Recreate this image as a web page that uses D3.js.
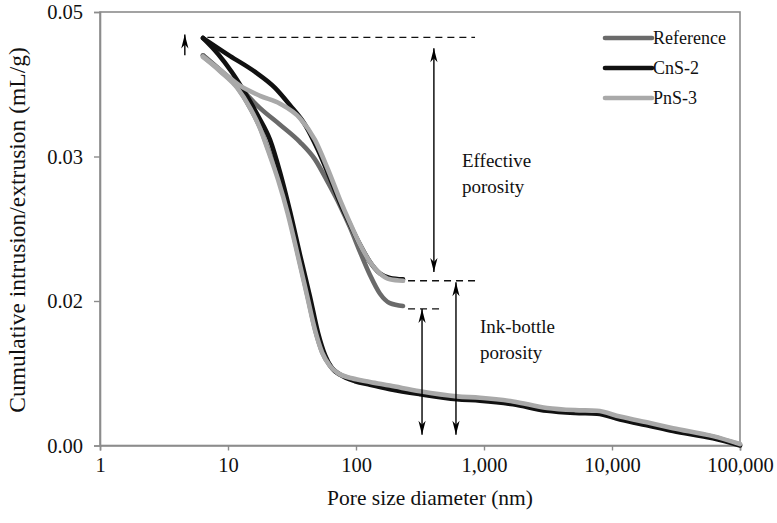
<!DOCTYPE html>
<html><head><meta charset="utf-8">
<script src="https://cdn.jsdelivr.net/npm/d3@7"></script>
<style>body{margin:0;background:#fff}svg{display:block}text{font-family:"Liberation Serif","DejaVu Serif",serif}</style>
</head><body><svg id="c" width="777" height="523"></svg>
<script>
// ---- data (pore diameter nm, cumulative volume mL/g) ----
const seriesNames = ["Reference", "CnS-2", "PnS-3"];
const refIntrusion = [[6.38,0.0440],[8.66,0.0419],[11.8,0.0396],[14.9,0.0367],[17.8,0.0340],[20.6,0.0310],[24.8,0.0285],[29.6,0.0261],[35.5,0.0231],[41.7,0.0204],[48.0,0.0160],[54.5,0.0129],[62.9,0.0110],[72.7,0.0100],[93.5,0.0092],[128.6,0.0087],[184,0.0081],[316,0.0073],[615,0.0066],[931,0.0064],[1685,0.0059],[3107,0.0050],[5140,0.0047],[7637,0.0046],[11550,0.0038],[19810,0.0029],[29970,0.0022],[61520,0.0012],[100000,0.0001]];
const refExtrusion = [[6.38,0.0440],[8.66,0.0420],[12.4,0.0395],[17.8,0.0367],[25.5,0.0344],[36.5,0.0320],[47.8,0.0298],[60.4,0.0282],[75.0,0.0266],[89.8,0.0251],[107.5,0.0234],[128.6,0.0218],[154,0.0205],[184,0.0197],[233,0.0193]];
const cnsIntrusion = [[6.38,0.0464],[8.36,0.0442],[10.7,0.0417],[13.6,0.0388],[17.2,0.0356],[21.3,0.0323],[25.5,0.0289],[30.5,0.0262],[36.5,0.0232],[43.7,0.0203],[50.5,0.0156],[57.3,0.0125],[64.9,0.0107],[75.0,0.0098],[98.2,0.0089],[128.6,0.0084],[184,0.0078],[316,0.0071],[615,0.0064],[931,0.0062],[1685,0.0057],[3107,0.0048],[5140,0.0045],[7637,0.0044],[11550,0.0036],[19810,0.0027],[29970,0.0020],[61520,0.0010],[100000,0.0000]];
const cnsExtrusion = [[6.38,0.0464],[10.4,0.0439],[16.3,0.0417],[23.3,0.0395],[30.5,0.0371],[40.0,0.0344],[50.5,0.0309],[62.7,0.0285],[75.0,0.0268],[89.8,0.0253],[107.5,0.0239],[128.6,0.0227],[154,0.0219],[184,0.0216],[233,0.0215]];
const pnsIntrusion = [[6.38,0.0438],[8.66,0.0418],[11.8,0.0395],[14.9,0.0367],[17.8,0.0339],[20.5,0.0309],[24.6,0.0284],[29.4,0.0260],[35.2,0.0231],[41.4,0.0204],[47.8,0.0160],[54.3,0.0129],[62.7,0.0110],[72.5,0.0100],[93.1,0.0093],[128.6,0.0088],[184,0.0083],[316,0.0075],[615,0.0068],[931,0.0066],[1685,0.0061],[3107,0.0052],[5140,0.0049],[7637,0.0048],[11550,0.0040],[19810,0.0031],[29970,0.0024],[61520,0.0013],[100000,0.0002]];
const pnsExtrusion = [[6.38,0.0438],[8.66,0.0420],[12.4,0.0398],[17.8,0.0384],[25.5,0.0373],[36.5,0.0353],[47.8,0.0323],[60.4,0.0291],[75.0,0.0270],[89.8,0.0254],[107.5,0.0239],[128.6,0.0227],[154,0.0219],[184,0.0215],[233,0.0214]];
const xTicks = [1, 10, 100, 1000, 10000, 100000];
const yTicks = [0, 0.02, 0.03, 0.05];
// annotation guides in data units
const dashedGuides = [[6.9, 851, 0.0465], [255, 851, 0.0214], [255, 453, 0.0189]];
const arrowsDouble = [[406, 0.0450, 0.0220], [604, 0.0213, 0.0015], [328, 0.0189, 0.0015]];
const arrowUp = [4.6, 0.0440, 0.0469];
const labels = [[673, 0.02927, "Effective"], [673, 0.02747, "porosity"], [931, 0.01557, "Ink-bottle"], [931, 0.01197, "porosity"]];

const colors = {"Reference":"#6a6a6a","CnS-2":"#111111","PnS-3":"#a9a9a9"};
const series = [
  {name:"Reference", parts:[refIntrusion, refExtrusion]},
  {name:"CnS-2", parts:[cnsIntrusion, cnsExtrusion]},
  {name:"PnS-3", parts:[pnsIntrusion, pnsExtrusion]}
];

const FONT = '"Liberation Serif","DejaVu Serif",serif';
const svg = d3.select("#c");
const L=100,R=740,T=12,B=445.5;
const x = d3.scaleLog().domain([1,1e5]).range([L,R]);
const y = d3.scaleLinear().domain([0,0.02,0.03,0.05]).range([B,301,156.5,T]);

const defs = svg.append("defs");
defs.append("marker").attr("id","ah").attr("markerUnits","userSpaceOnUse")
  .attr("markerWidth",16).attr("markerHeight",10).attr("viewBox","-15 -5 16 10")
  .attr("refX",0).attr("refY",0).attr("orient","auto-start-reverse")
  .append("path").attr("d","M0,0 L-14,-3.6 L-10,0 L-14,3.6 Z").attr("fill","#000");

// frame
svg.append("rect").attr("x",L).attr("y",T).attr("width",R-L).attr("height",B-T)
  .attr("fill","none").attr("stroke","#8c8c8c").attr("stroke-width",1.6);

// axes
const xa = svg.append("g").attr("transform",`translate(0,${B})`)
  .call(d3.axisBottom(x).tickValues(xTicks).tickFormat(d3.format(",")).tickSize(5).tickPadding(7));
const ya = svg.append("g").attr("transform",`translate(${L},0)`)
  .call(d3.axisLeft(y).tickValues(yTicks).tickFormat(d3.format(".2f")).tickSize(6).tickPadding(11));
[xa,ya].forEach(g=>{
  g.attr("font-family",FONT);
  g.select(".domain").attr("stroke","#8c8c8c").attr("stroke-width",1.6);
  g.selectAll(".tick line").attr("stroke","#8c8c8c").attr("stroke-width",1.4);
  g.selectAll(".tick text").attr("font-size",20.5).attr("fill","#111");
});

svg.append("text").attr("x",430).attr("y",505).attr("text-anchor","middle")
  .attr("font-size",21.5).attr("fill","#111").text("Pore size diameter (nm)");
svg.append("text").attr("transform","translate(25,230) rotate(-90)").attr("text-anchor","middle")
  .attr("font-size",23.5).attr("fill","#111").text("Cumulative intrusion/extrusion (mL/g)");

// curves
const line = d3.line().x(d=>x(d[0])).y(d=>y(d[1])).curve(d3.curveMonotoneX);
series.forEach(s=>{
  s.parts.forEach(p=>{
    svg.append("path").datum(p.slice().sort((a,b)=>a[0]-b[0])).attr("d",line)
      .attr("fill","none").attr("stroke",colors[s.name]).attr("stroke-width",4.6)
      .attr("stroke-linecap","round").attr("stroke-linejoin","round");
  });
});

// dashed guides
dashedGuides.forEach(g=>{
  svg.append("line").attr("x1",x(g[0])).attr("x2",x(g[1])).attr("y1",y(g[2])).attr("y2",y(g[2]))
    .attr("stroke","#111").attr("stroke-width",1.3).attr("stroke-dasharray","7,5");
});
// arrows
arrowsDouble.forEach(a=>{
  svg.append("line").attr("x1",x(a[0])).attr("x2",x(a[0])).attr("y1",y(a[1])).attr("y2",y(a[2]))
    .attr("stroke","#000").attr("stroke-width",1.4)
    .attr("marker-start","url(#ah)").attr("marker-end","url(#ah)");
});
svg.append("line").attr("x1",x(arrowUp[0])).attr("x2",x(arrowUp[0])).attr("y1",y(arrowUp[1])).attr("y2",y(arrowUp[2]))
  .attr("stroke","#000").attr("stroke-width",1.4).attr("marker-end","url(#ah)");

labels.forEach(l=>{
  svg.append("text").attr("x",x(l[0])).attr("y",y(l[1])).attr("font-size",19).attr("fill","#111").text(l[2]);
});

// legend
const lg = svg.append("g");
seriesNames.forEach((n,i)=>{
  const yy = 38 + i*30;
  lg.append("line").attr("x1",605).attr("x2",652).attr("y1",yy).attr("y2",yy)
    .attr("stroke",colors[n]).attr("stroke-width",4.6).attr("stroke-linecap","round");
  lg.append("text").attr("x",653).attr("y",yy+6).attr("font-size",18).attr("fill","#111").text(n);
});
</script></body></html>
